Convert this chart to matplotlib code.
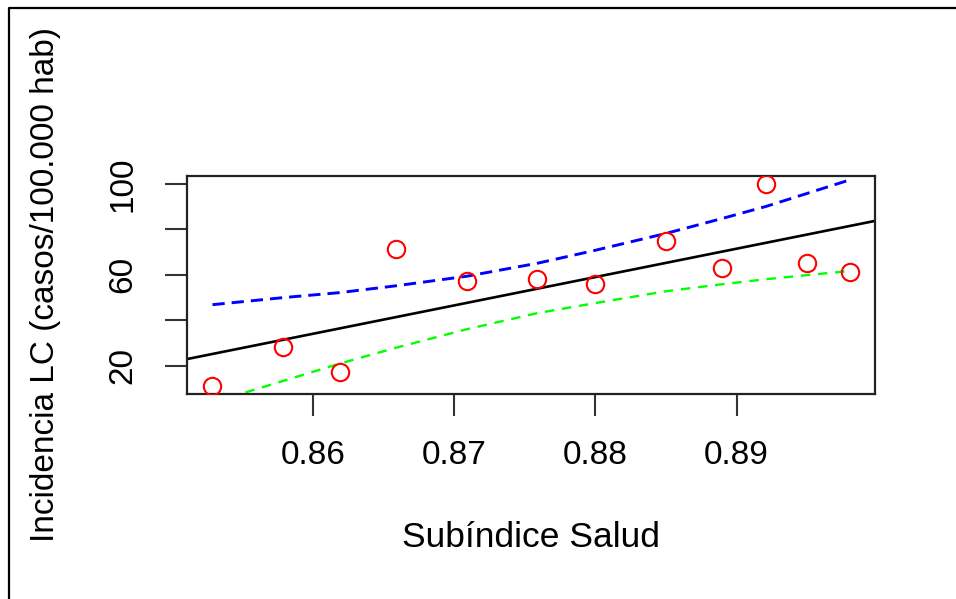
import numpy as np
import matplotlib.pyplot as plt
from matplotlib.lines import Line2D

plt.rcParams['font.family'] = ['Liberation Sans', 'DejaVu Sans']

# Datos
salud = [0.8529, 0.8579, 0.8619, 0.8659, 0.8709, 0.8759,
         0.8800, 0.8850, 0.8890, 0.8921, 0.8950, 0.8980]
incidencia = [11.2, 28.5, 17.4, 71.5, 57.5, 58.3,
              55.8, 74.7, 63.1, 99.9, 65.0, 61.2]
# banda de confianza (superior / inferior) en cada x
banda_sup = [46.9, 50.0, 52.2, 55.2, 59.4, 65.1,
             70.8, 78.2, 84.8, 90.1, 95.8, 101.7]
banda_inf = [3.9, 13.4, 21.0, 28.0, 36.1, 43.2,
             47.6, 52.8, 55.9, 58.1, 59.9, 61.7]

x_ticks = [0.86, 0.87, 0.88, 0.89]
y_ticks = [20, 40, 60, 80, 100]
y_ticklabels = ['20', '', '60', '', '100']

x = np.array(salud)
y = np.array(incidencia)

fig = plt.figure(figsize=(9.56, 5.99), dpi=100)
ax = fig.add_axes([187 / 956, 1 - 394 / 599, 688 / 956, 218 / 599])

# puntos
ax.plot(x, y, 'o', mfc='none', mec='red', ms=12.5, mew=1.5, zorder=3)

# recta de regresion (lm)
m, b = np.polyfit(x, y, 1)
ax.axline((x.mean(), m * x.mean() + b), slope=m, color='black', lw=1.9)

# bandas
ax.plot(x, banda_sup, color='blue', lw=2.1, dashes=(4.2, 2.4))
ax.plot(x, banda_inf, color='#00ff00', lw=1.7, dashes=(4.0, 3.3))

# limites como en R (4% de margen)
dx = (x.max() - x.min()) * 0.04
dy = (y.max() - y.min()) * 0.04
ax.set_xlim(x.min() - dx, x.max() + dx)
ax.set_ylim(y.min() - dy, y.max() + dy)

ax.set_xticks(x_ticks)
ax.set_xticklabels([f'{t:.2f}' for t in x_ticks])
ax.set_yticks(y_ticks)
ax.set_yticklabels(y_ticklabels)

ax.tick_params(axis='both', direction='out', length=15.8, width=1.5,
               labelsize=24, color='#333333')
ax.tick_params(axis='x', pad=17)
ax.tick_params(axis='y', pad=19, labelrotation=90)
for lab in ax.get_yticklabels():
    lab.set_va('center')

for s in ax.spines.values():
    s.set_linewidth(1.6)
    s.set_color('#222222')

ax.set_xlabel('Subíndice Salud', fontsize=25.5)
ax.set_ylabel('Incidencia LC (casos/100.000 hab)', fontsize=24)
ax.xaxis.set_label_coords(0.5, -0.66)
ax.xaxis.label.set_va('center')
ax.yaxis.set_label_coords(-0.206, 0.5)
ax.yaxis.label.set_va('center')

# borde de la figura (izquierda y arriba)
fig.add_artist(Line2D([9 / 956, 9 / 956, 1], [0, 1 - 8 / 599, 1 - 8 / 599],
                      color='black', lw=1.6, transform=fig.transFigure))

fig.savefig('out.png', dpi=100)
